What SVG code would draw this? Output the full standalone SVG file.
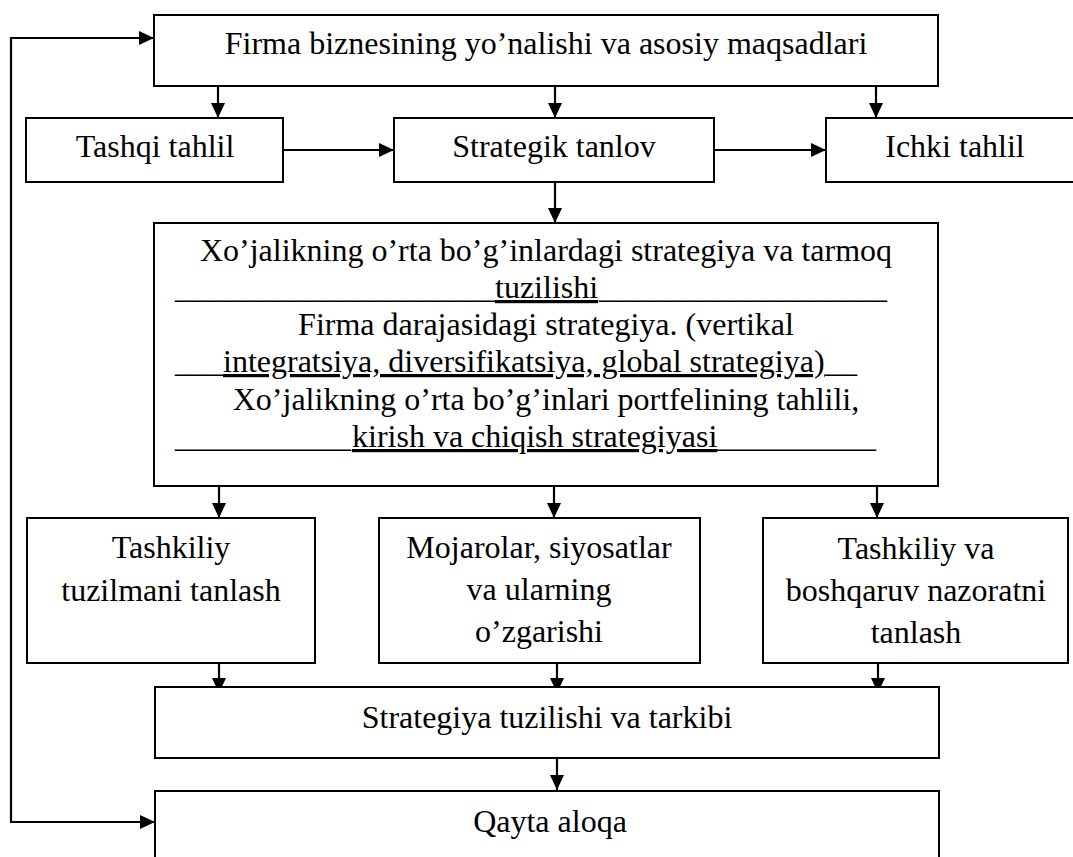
<svg xmlns="http://www.w3.org/2000/svg" width="1073" height="857" viewBox="0 0 1073 857">
  <style>
    .box { fill: #ffffff; stroke: #000000; stroke-width: 2; }
    .lbl { font-family: "Liberation Serif", "Times New Roman", serif; font-size: 32px; fill: #000000; }
    .mid { text-anchor: middle; }
    .ul { text-decoration: underline; }
    .link { fill: none; stroke: #000000; stroke-width: 2.2; }
  </style>
  <defs>
    <marker id="arrow" markerUnits="userSpaceOnUse" markerWidth="15" markerHeight="14" refX="15" refY="7" orient="auto">
      <path d="M0,0 L15,7 L0,14 Z" fill="#000000"/>
    </marker>
  </defs>

  <rect width="1073" height="857" fill="#ffffff"/>

  <!-- Connectors -->
  <g id="connectors">
    <!-- feedback loop -->
    <path class="link" d="M11,822 L11,38 L154,38" marker-end="url(#arrow)"/>
    <path class="link" d="M10,822 L155,822" marker-end="url(#arrow)"/>
    <!-- goals to analysis row -->
    <path class="link" d="M218,86 L218,118" marker-end="url(#arrow)"/>
    <path class="link" d="M555,86 L555,118" marker-end="url(#arrow)"/>
    <path class="link" d="M876,86 L876,118" marker-end="url(#arrow)"/>
    <!-- analysis row links -->
    <path class="link" d="M283,150 L394,150" marker-end="url(#arrow)"/>
    <path class="link" d="M714,150 L826,150" marker-end="url(#arrow)"/>
    <!-- choice to strategy block -->
    <path class="link" d="M555,182 L555,223" marker-end="url(#arrow)"/>
    <!-- strategy block to third row -->
    <path class="link" d="M219,486 L219,518" marker-end="url(#arrow)"/>
    <path class="link" d="M554,486 L554,518" marker-end="url(#arrow)"/>
    <path class="link" d="M877,486 L877,518" marker-end="url(#arrow)"/>
    <!-- third row to structure -->
    <path class="link" d="M219,663 L219,693" marker-end="url(#arrow)"/>
    <path class="link" d="M557,663 L557,693" marker-end="url(#arrow)"/>
    <path class="link" d="M878,663 L878,693" marker-end="url(#arrow)"/>
    <!-- structure to feedback -->
    <path class="link" d="M557,758 L557,790" marker-end="url(#arrow)"/>
  </g>

  <g id="node-goals">
    <rect class="box" x="154" y="15" width="784" height="71"/>
    <text class="lbl mid" x="546" y="54">Firma biznesining yo’nalishi va asosiy maqsadlari</text>
  </g>

  <g id="node-external">
    <rect class="box" x="26" y="118" width="257" height="64"/>
    <text class="lbl mid" x="155" y="157">Tashqi tahlil</text>
  </g>

  <g id="node-choice">
    <rect class="box" x="394" y="118" width="320" height="64"/>
    <text class="lbl mid" x="554" y="157">Strategik tanlov</text>
  </g>

  <g id="node-internal">
    <rect class="box" x="826" y="118" width="258" height="64"/>
    <text class="lbl mid" x="955" y="157">Ichki tahlil</text>
  </g>

  <g id="node-strategy">
    <rect class="box" x="154" y="223" width="784" height="263"/>
    <text class="lbl mid" x="546" y="261">Xo’jalikning o’rta bo’g’inlardagi strategiya va tarmoq</text>
    <text class="lbl" y="298"><tspan x="175">____________________</tspan><tspan x="495" class="ul">tuzilishi</tspan><tspan x="599">__________________</tspan></text>
    <text class="lbl mid" x="546" y="335">Firma darajasidagi strategiya. (vertikal</text>
    <text class="lbl" y="372"><tspan x="175">___</tspan><tspan x="223" class="ul">integratsiya, diversifikatsiya, global strategiya)</tspan><tspan x="825">__</tspan></text>
    <text class="lbl mid" x="546" y="410">Xo’jalikning o’rta bo’g’inlari portfelining tahlili,</text>
    <text class="lbl" y="447"><tspan x="175">___________</tspan><tspan x="352" class="ul">kirish va chiqish strategiyasi</tspan><tspan x="716">__________</tspan></text>
  </g>

  <g id="node-org-structure">
    <rect class="box" x="27" y="518" width="288" height="145"/>
    <text class="lbl mid" x="171" y="558">Tashkiliy</text>
    <text class="lbl mid" x="171" y="601">tuzilmani tanlash</text>
  </g>

  <g id="node-conflicts">
    <rect class="box" x="379" y="518" width="321" height="145"/>
    <text class="lbl mid" x="539" y="558">Mojarolar, siyosatlar</text>
    <text class="lbl mid" x="539" y="600">va ularning</text>
    <text class="lbl mid" x="539" y="642">o’zgarishi</text>
  </g>

  <g id="node-control">
    <rect class="box" x="763" y="518" width="305" height="145"/>
    <text class="lbl mid" x="916" y="559">Tashkiliy va</text>
    <text class="lbl mid" x="916" y="601">boshqaruv nazoratni</text>
    <text class="lbl mid" x="916" y="643">tanlash</text>
  </g>

  <g id="node-structure">
    <rect class="box" x="155" y="687" width="784" height="71"/>
    <text class="lbl mid" x="547" y="728">Strategiya tuzilishi va tarkibi</text>
  </g>

  <g id="node-feedback">
    <rect class="box" x="155" y="791" width="784" height="100"/>
    <text class="lbl mid" x="550" y="832">Qayta aloqa</text>
  </g>
</svg>
